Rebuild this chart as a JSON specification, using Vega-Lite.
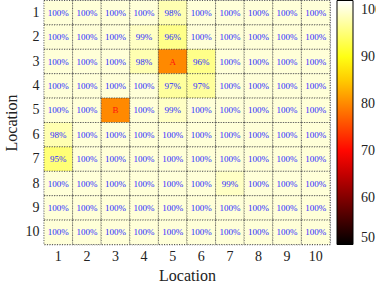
{
  "$schema": "https://vega.github.io/schema/vega-lite/v6.json",
  "width": 286,
  "height": 244,
  "autosize": {"type": "none"},
  "padding": {"left": 44, "top": 0.5, "right": 46, "bottom": 44.5},
  "background": "white",
  "config": {
    "font": "Liberation Serif",
    "text": {"font": "Liberation Serif"},
    "view": {"stroke": "#333", "strokeDash": [1, 1.5], "strokeWidth": 0.8}
  },
  "data": {
    "values": [
      {"row": 1, "col": 1, "v": 100, "label": "100%"},
      {"row": 1, "col": 2, "v": 100, "label": "100%"},
      {"row": 1, "col": 3, "v": 100, "label": "100%"},
      {"row": 1, "col": 4, "v": 100, "label": "100%"},
      {"row": 1, "col": 5, "v": 98, "label": "98%"},
      {"row": 1, "col": 6, "v": 100, "label": "100%"},
      {"row": 1, "col": 7, "v": 100, "label": "100%"},
      {"row": 1, "col": 8, "v": 100, "label": "100%"},
      {"row": 1, "col": 9, "v": 100, "label": "100%"},
      {"row": 1, "col": 10, "v": 100, "label": "100%"},
      {"row": 2, "col": 1, "v": 100, "label": "100%"},
      {"row": 2, "col": 2, "v": 100, "label": "100%"},
      {"row": 2, "col": 3, "v": 100, "label": "100%"},
      {"row": 2, "col": 4, "v": 99, "label": "99%"},
      {"row": 2, "col": 5, "v": 96, "label": "96%"},
      {"row": 2, "col": 6, "v": 100, "label": "100%"},
      {"row": 2, "col": 7, "v": 100, "label": "100%"},
      {"row": 2, "col": 8, "v": 100, "label": "100%"},
      {"row": 2, "col": 9, "v": 100, "label": "100%"},
      {"row": 2, "col": 10, "v": 100, "label": "100%"},
      {"row": 3, "col": 1, "v": 100, "label": "100%"},
      {"row": 3, "col": 2, "v": 100, "label": "100%"},
      {"row": 3, "col": 3, "v": 100, "label": "100%"},
      {"row": 3, "col": 4, "v": 98, "label": "98%"},
      {"row": 3, "col": 5, "v": 80, "label": "A"},
      {"row": 3, "col": 6, "v": 96, "label": "96%"},
      {"row": 3, "col": 7, "v": 100, "label": "100%"},
      {"row": 3, "col": 8, "v": 100, "label": "100%"},
      {"row": 3, "col": 9, "v": 100, "label": "100%"},
      {"row": 3, "col": 10, "v": 100, "label": "100%"},
      {"row": 4, "col": 1, "v": 100, "label": "100%"},
      {"row": 4, "col": 2, "v": 100, "label": "100%"},
      {"row": 4, "col": 3, "v": 100, "label": "100%"},
      {"row": 4, "col": 4, "v": 100, "label": "100%"},
      {"row": 4, "col": 5, "v": 97, "label": "97%"},
      {"row": 4, "col": 6, "v": 97, "label": "97%"},
      {"row": 4, "col": 7, "v": 100, "label": "100%"},
      {"row": 4, "col": 8, "v": 100, "label": "100%"},
      {"row": 4, "col": 9, "v": 100, "label": "100%"},
      {"row": 4, "col": 10, "v": 100, "label": "100%"},
      {"row": 5, "col": 1, "v": 100, "label": "100%"},
      {"row": 5, "col": 2, "v": 100, "label": "100%"},
      {"row": 5, "col": 3, "v": 80, "label": "B"},
      {"row": 5, "col": 4, "v": 100, "label": "100%"},
      {"row": 5, "col": 5, "v": 99, "label": "99%"},
      {"row": 5, "col": 6, "v": 100, "label": "100%"},
      {"row": 5, "col": 7, "v": 100, "label": "100%"},
      {"row": 5, "col": 8, "v": 100, "label": "100%"},
      {"row": 5, "col": 9, "v": 100, "label": "100%"},
      {"row": 5, "col": 10, "v": 100, "label": "100%"},
      {"row": 6, "col": 1, "v": 98, "label": "98%"},
      {"row": 6, "col": 2, "v": 100, "label": "100%"},
      {"row": 6, "col": 3, "v": 100, "label": "100%"},
      {"row": 6, "col": 4, "v": 100, "label": "100%"},
      {"row": 6, "col": 5, "v": 100, "label": "100%"},
      {"row": 6, "col": 6, "v": 100, "label": "100%"},
      {"row": 6, "col": 7, "v": 100, "label": "100%"},
      {"row": 6, "col": 8, "v": 100, "label": "100%"},
      {"row": 6, "col": 9, "v": 100, "label": "100%"},
      {"row": 6, "col": 10, "v": 100, "label": "100%"},
      {"row": 7, "col": 1, "v": 95, "label": "95%"},
      {"row": 7, "col": 2, "v": 100, "label": "100%"},
      {"row": 7, "col": 3, "v": 100, "label": "100%"},
      {"row": 7, "col": 4, "v": 100, "label": "100%"},
      {"row": 7, "col": 5, "v": 100, "label": "100%"},
      {"row": 7, "col": 6, "v": 100, "label": "100%"},
      {"row": 7, "col": 7, "v": 100, "label": "100%"},
      {"row": 7, "col": 8, "v": 100, "label": "100%"},
      {"row": 7, "col": 9, "v": 100, "label": "100%"},
      {"row": 7, "col": 10, "v": 100, "label": "100%"},
      {"row": 8, "col": 1, "v": 100, "label": "100%"},
      {"row": 8, "col": 2, "v": 100, "label": "100%"},
      {"row": 8, "col": 3, "v": 100, "label": "100%"},
      {"row": 8, "col": 4, "v": 100, "label": "100%"},
      {"row": 8, "col": 5, "v": 100, "label": "100%"},
      {"row": 8, "col": 6, "v": 100, "label": "100%"},
      {"row": 8, "col": 7, "v": 99, "label": "99%"},
      {"row": 8, "col": 8, "v": 100, "label": "100%"},
      {"row": 8, "col": 9, "v": 100, "label": "100%"},
      {"row": 8, "col": 10, "v": 100, "label": "100%"},
      {"row": 9, "col": 1, "v": 100, "label": "100%"},
      {"row": 9, "col": 2, "v": 100, "label": "100%"},
      {"row": 9, "col": 3, "v": 100, "label": "100%"},
      {"row": 9, "col": 4, "v": 100, "label": "100%"},
      {"row": 9, "col": 5, "v": 100, "label": "100%"},
      {"row": 9, "col": 6, "v": 100, "label": "100%"},
      {"row": 9, "col": 7, "v": 100, "label": "100%"},
      {"row": 9, "col": 8, "v": 100, "label": "100%"},
      {"row": 9, "col": 9, "v": 100, "label": "100%"},
      {"row": 9, "col": 10, "v": 100, "label": "100%"},
      {"row": 10, "col": 1, "v": 100, "label": "100%"},
      {"row": 10, "col": 2, "v": 100, "label": "100%"},
      {"row": 10, "col": 3, "v": 100, "label": "100%"},
      {"row": 10, "col": 4, "v": 100, "label": "100%"},
      {"row": 10, "col": 5, "v": 100, "label": "100%"},
      {"row": 10, "col": 6, "v": 100, "label": "100%"},
      {"row": 10, "col": 7, "v": 100, "label": "100%"},
      {"row": 10, "col": 8, "v": 100, "label": "100%"},
      {"row": 10, "col": 9, "v": 100, "label": "100%"},
      {"row": 10, "col": 10, "v": 100, "label": "100%"}
    ]
  },
  "encoding": {
    "x": {
      "field": "col", "type": "ordinal",
      "scale": {"domain": [1,2,3,4,5,6,7,8,9,10], "paddingInner": 0, "paddingOuter": 0},
      "axis": {
        "title": "Location", "labelAngle": 0, "ticks": false, "domain": false,
        "labelFontSize": 14, "labelPadding": 5, "labelColor": "#222",
        "titleFontSize": 16, "titleFontWeight": "normal", "titlePadding": 4, "titleColor": "#222"
      }
    },
    "y": {
      "field": "row", "type": "ordinal",
      "scale": {"domain": [1,2,3,4,5,6,7,8,9,10], "paddingInner": 0, "paddingOuter": 0},
      "axis": {
        "title": "Location", "ticks": false, "domain": false,
        "labelFontSize": 14, "labelPadding": 5, "labelColor": "#222",
        "titleFontSize": 16, "titleFontWeight": "normal", "titlePadding": 6, "titleColor": "#222"
      }
    }
  },
  "layer": [
    {
      "mark": {"type": "rect", "stroke": "#333", "strokeWidth": 0.8, "strokeDash": [1, 1.5]},
      "encoding": {
        "color": {
          "field": "v", "type": "quantitative",
          "scale": {
            "type": "linear",
            "domain": [50, 69.5, 89, 102],
            "range": ["#000000", "#ff0000", "#ffff00", "#ffffff"],
            "interpolate": "rgb"
          },
          "legend": {
            "orient": "none", "legendX": 293, "legendY": 0,
            "title": null, "direction": "vertical",
            "gradientLength": 244, "gradientThickness": 16,
            "gradientStrokeColor": "#000", "gradientStrokeWidth": 1,
            "values": [50, 60, 70, 80, 90, 100],
            "labelFontSize": 14, "labelColor": "#222", "labelOffset": 8,
            "labelBaseline": "middle", "labelOverlap": false
          }
        }
      }
    },
    {
      "mark": {"type": "text", "font": "Liberation Serif", "fontSize": 9, "baseline": "middle", "align": "center"},
      "encoding": {
        "text": {"field": "label", "type": "nominal"},
        "color": {
          "condition": {"test": "datum.label === 'A' || datum.label === 'B'", "value": "#ff1010"},
          "value": "#2b2bff"
        },
        "fontWeight": {
          "condition": {"test": "datum.label === 'A' || datum.label === 'B'", "value": "bold"},
          "value": "normal"
        }
      }
    }
  ]
}
